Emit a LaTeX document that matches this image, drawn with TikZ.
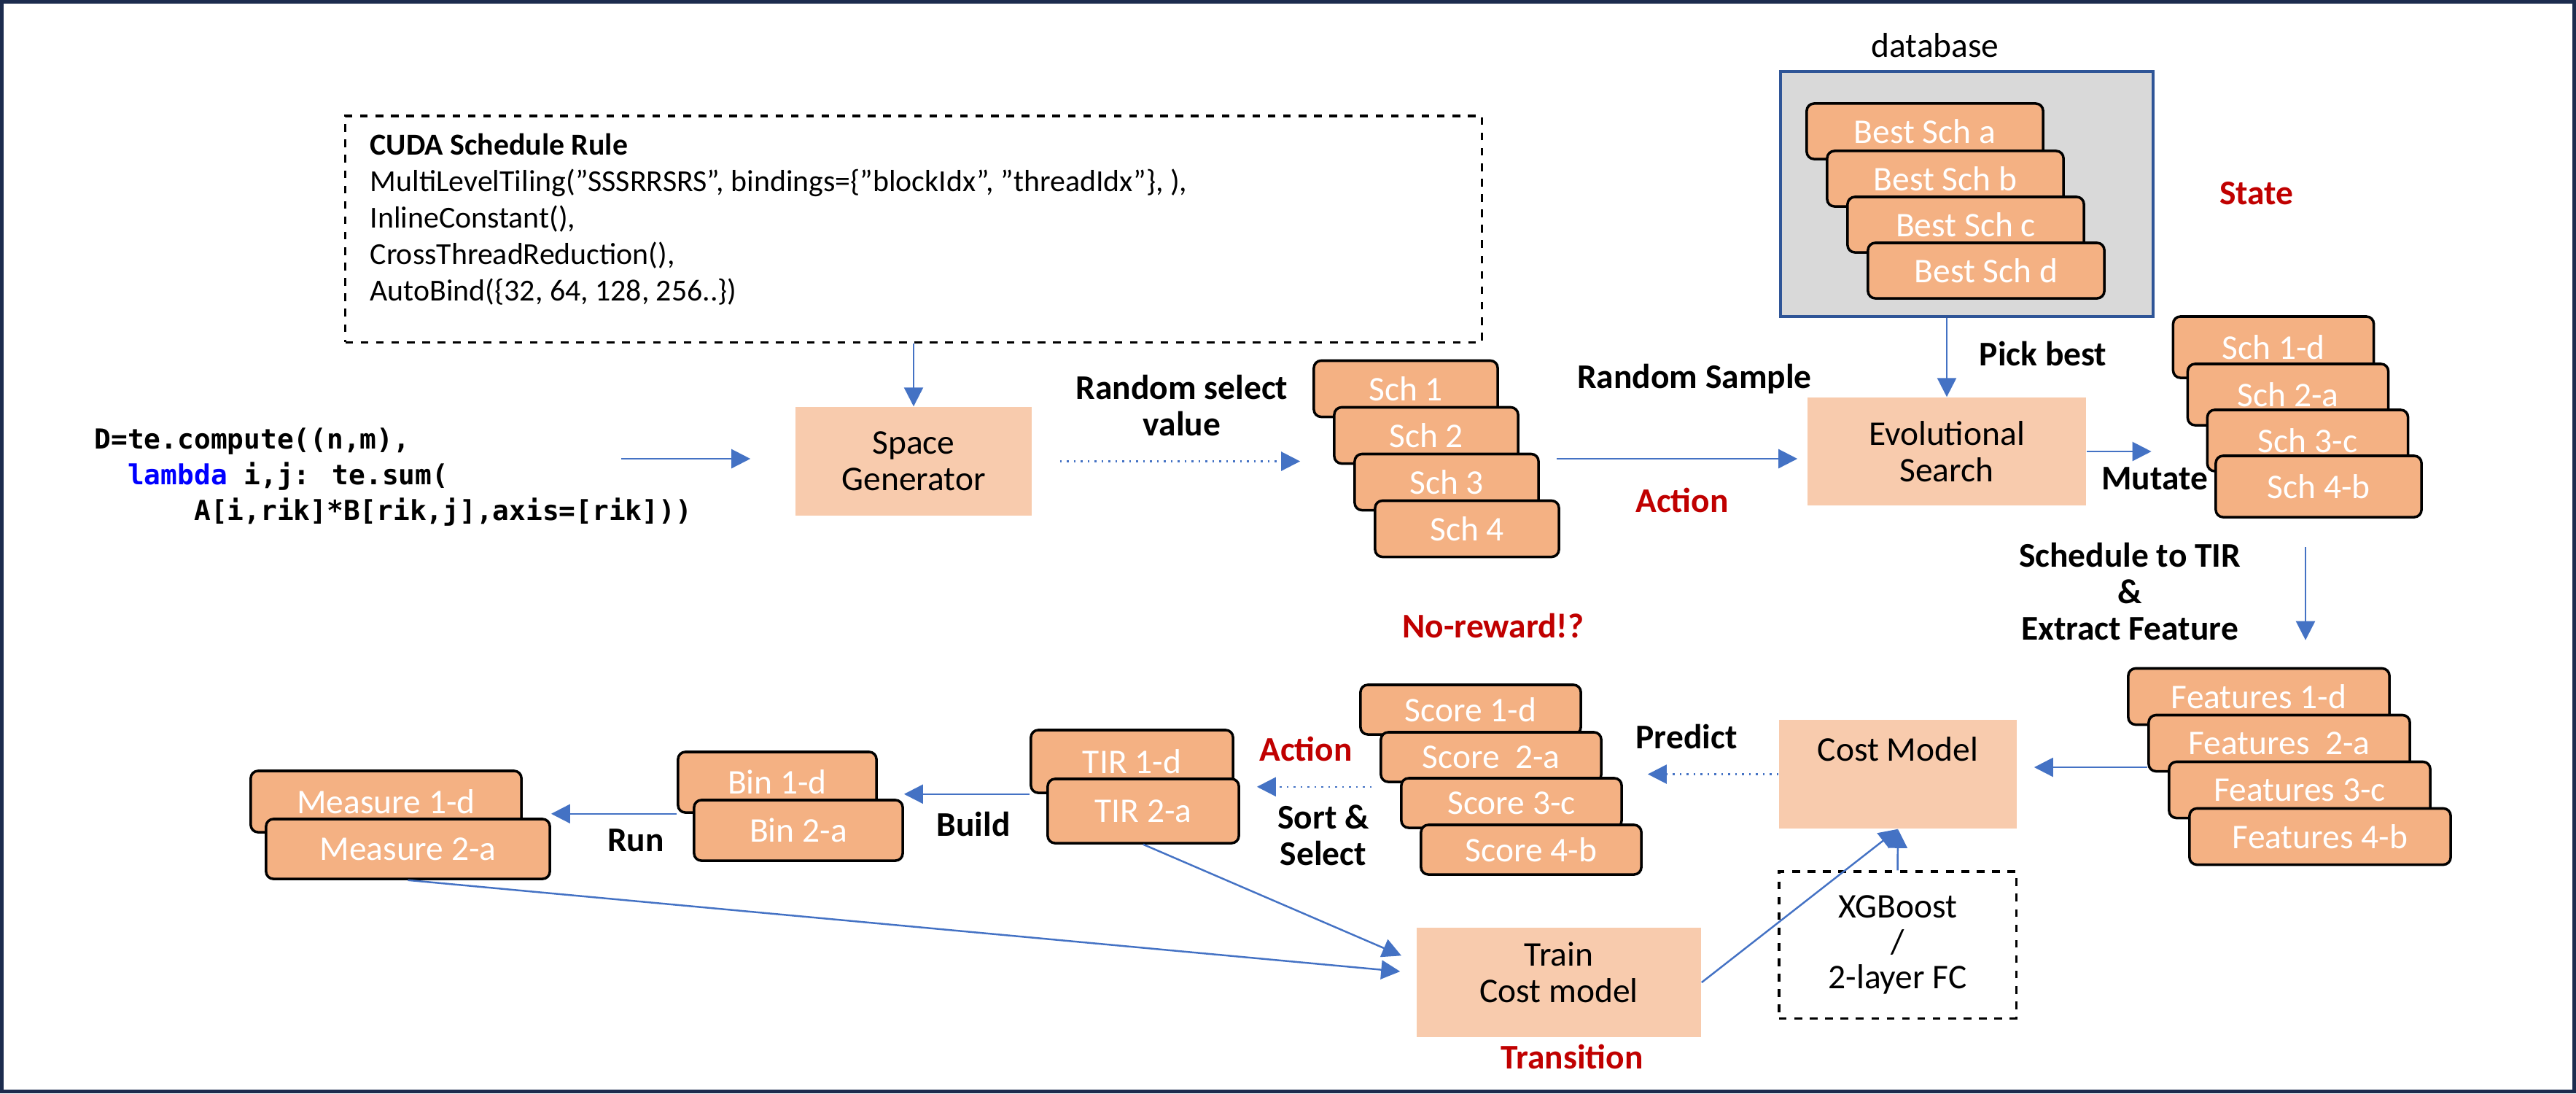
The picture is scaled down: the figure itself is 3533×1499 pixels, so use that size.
\documentclass[tikz,border=0pt]{standalone}
\usepackage{fontspec}
\setmainfont{Carlito}
\newfontfamily\codefont{DejaVu Sans Mono}
\usetikzlibrary{arrows.meta}
\definecolor{boxorange}{HTML}{F4B183}
\definecolor{paleorange}{HTML}{F8CBAD}
\definecolor{arrowblue}{HTML}{4472C4}
\definecolor{labelred}{HTML}{C00000}
\definecolor{framenavy}{HTML}{1C2C4E}
\definecolor{dbblue}{HTML}{2F5597}
\definecolor{dbgray}{HTML}{D9D9D9}
\definecolor{codeblue}{HTML}{0000FF}

\begin{document}
\begin{tikzpicture}[x=0.01cm,y=-0.01cm,
    every node/.style={font=\fontsize{13.5}{14.2}\selectfont},
    schbox/.style={draw=black,line width=1pt,rounded corners=0.1cm,fill=boxorange,text=white,inner sep=0pt},
    pale/.style={fill=paleorange,inner sep=0pt,align=center},
    dashbox/.style={draw=black,dashed,line width=0.9pt,inner sep=0pt},
    lbl/.style={font=\bfseries\fontsize{13.5}{14.2}\selectfont,align=center},
    redlbl/.style={lbl,text=labelred},
    arr/.style={draw=arrowblue,line width=0.7pt,-{Triangle[length=0.26cm,width=0.26cm]}},
    dotarr/.style={arr,dotted}]
        \useasboundingbox (0,0) rectangle (3533,1499);
        \draw[framenavy,line width=0.05cm] (2.5,2.5) rectangle (3530.5,1496.5);

        % top row
        \node [dashbox,minimum width=15.58cm,minimum height=3.10cm] (rule) at (1253,314) {};
        \node [anchor=west,align=left,inner sep=0pt,font=\fontsize{11.9}{14.2}\selectfont] (ruletext) at (507,301) {\textbf{CUDA Schedule Rule}\\MultiLevelTiling(”SSSRRSRS”, bindings=\{”blockIdx”, ”threadIdx”\}, ),\\InlineConstant(),\\CrossThreadReduction(),\\AutoBind(\{32, 64, 128, 256..\})};
        \node [anchor=west,align=left,inner sep=0pt,font=\codefont\bfseries\fontsize{10.75}{13.9}\selectfont] (code) at (129,654) {D=te.compute((n,m),\\\phantom{xx}\textcolor{codeblue}{lambda} i,j: te.sum(\\\phantom{xxxxxx}A[i,rik]*B[rik,j],axis=[rik]))};
        \coordinate (codeout) at (852,629);
        \node [pale,minimum width=3.24cm,minimum height=1.49cm] (space) at (1253,632.5) {Space\\Generator};
        \node [lbl] (randsel) at (1621,556) {Random select\\value};
        \node [schbox,minimum width=2.52cm,minimum height=0.77cm] (sch1) at (1928,533) {Sch 1};
        \node [schbox,minimum width=2.52cm,minimum height=0.77cm] (sch2) at (1956,597) {Sch 2};
        \node [schbox,minimum width=2.52cm,minimum height=0.77cm] (sch3) at (1984,661) {Sch 3};
        \node [schbox,minimum width=2.52cm,minimum height=0.77cm] (sch4) at (2012,725) {Sch 4};
        \coordinate (schout) at (2135,629);
        \node [lbl] (randsamp) at (2324,520) {Random Sample};
        \node [redlbl] (action1) at (2307,686) {Action};
        \node [pale,minimum width=3.82cm,minimum height=1.48cm] (evo) at (2670,619) {Evolutional\\Search};

        % database
        \node (dblabel) at (2654,62) {database};
        \node [draw=dbblue,line width=0.04cm,fill=dbgray,minimum width=5.11cm,minimum height=3.36cm,inner sep=0pt] (db) at (2697.5,266) {};
        \node [schbox,minimum width=3.24cm,minimum height=0.76cm] (best1) at (2640,180) {Best Sch a};
        \node [schbox,minimum width=3.24cm,minimum height=0.76cm] (best2) at (2668,245) {Best Sch b};
        \node [schbox,minimum width=3.24cm,minimum height=0.76cm] (best3) at (2696,308) {Best Sch c};
        \node [schbox,minimum width=3.24cm,minimum height=0.76cm] (best4) at (2724,371) {Best Sch d};
        \node [redlbl] (state) at (3095,265) {State};
        \node [lbl] (pick) at (2802,485) {Pick best};
        \node [lbl] (mutate) at (2955,656) {Mutate};

        % mutated schedules
        \node [schbox,minimum width=2.75cm,minimum height=0.84cm] (sch1d) at (3118,476) {Sch 1-d};
        \node [schbox,minimum width=2.75cm,minimum height=0.84cm] (sch2a) at (3138,541) {Sch 2-a};
        \node [schbox,minimum width=2.75cm,minimum height=0.84cm] (sch3c) at (3165,604) {Sch 3-c};
        \node [schbox,minimum width=2.82cm,minimum height=0.84cm] (sch4b) at (3180,667) {Sch 4-b};
        \node [lbl] (totir) at (2921,811) {Schedule to TIR\\\&\\Extract Feature};

        % features and cost model
        \node [schbox,minimum width=3.58cm,minimum height=0.77cm] (feat1) at (3098,955) {Features 1-d};
        \node [schbox,minimum width=3.58cm,minimum height=0.77cm] (feat2) at (3126,1019) {Features\ \ 2-a};
        \node [schbox,minimum width=3.58cm,minimum height=0.77cm] (feat3) at (3154,1083) {Features 3-c};
        \node [schbox,minimum width=3.58cm,minimum height=0.77cm] (feat4) at (3182,1147) {Features 4-b};
        \node [pale,minimum width=3.26cm,minimum height=1.49cm,text height=0.3cm,text depth=0.67cm] (cost) at (2603,1061.5) {Cost Model};
        \node [lbl] (predict) at (2313,1010) {Predict};
        \node [dashbox,minimum width=3.25cm,minimum height=2.01cm,align=center,font=\fontsize{13.5}{13.9}\selectfont] (xgb) at (2602.5,1295.5) {XGBoost\\/\\2-layer FC};

        % scores
        \node [redlbl] (noreward) at (2048,858) {No-reward!?};
        \node [schbox,minimum width=3.02cm,minimum height=0.68cm] (score1) at (2017,973) {Score 1-d};
        \node [schbox,minimum width=3.02cm,minimum height=0.68cm] (score2) at (2045,1038) {Score\ \ 2-a};
        \node [schbox,minimum width=3.02cm,minimum height=0.68cm] (score3) at (2073,1101) {Score 3-c};
        \node [schbox,minimum width=3.02cm,minimum height=0.68cm] (score4) at (2100,1165) {Score 4-b};
        \node [redlbl] (action2) at (1791,1027) {Action};
        \node [lbl] (sortsel) at (1815,1145) {Sort \&\\Select};

        % bottom row
        \node [schbox,minimum width=2.77cm,minimum height=0.86cm] (tir1) at (1552.5,1044) {TIR 1-d};
        \node [schbox,minimum width=2.62cm,minimum height=0.88cm] (tir2) at (1568,1112) {TIR 2-a};
        \node [lbl] (build) at (1335,1130) {Build};
        \node [schbox,minimum width=2.72cm,minimum height=0.83cm] (bin1) at (1066,1072.5) {Bin 1-d};
        \node [schbox,minimum width=2.86cm,minimum height=0.83cm] (bin2) at (1095,1138.5) {Bin 2-a};
        \node [lbl] (run) at (872,1152) {Run};
        \node [schbox,minimum width=3.71cm,minimum height=0.84cm] (meas1) at (529.5,1099) {Measure 1-d};
        \node [schbox,minimum width=3.89cm,minimum height=0.82cm] (meas2) at (559.5,1164) {Measure 2-a};
        \node [pale,minimum width=3.90cm,minimum height=1.50cm,text depth=0.28cm] (train) at (2138,1347) {Train\\Cost model};
        \node [redlbl] (transition) at (2156,1449) {Transition};

        \path
        (rule) edge [arr] (space)
        (codeout) edge [arr,shorten >=0.61cm] (codeout -| space.west)
        (space.east) edge [dotarr,shorten <=0.38cm,shorten >=0.17cm] (space.east -| sch1.west)
        (schout) edge [arr,shorten >=0.13cm] (schout -| evo.west)
        (db.south -| evo.north) edge [arr] (evo.north)
        (evo.east) edge [arr,shorten >=0.48cm] (evo.east -| sch2a.west)
        ([xshift=-0.18cm]sch4b.south) edge [arr,shorten <=0.39cm,shorten >=0.37cm] ([xshift=-0.18cm]sch4b.south |- feat1.north)
        ([yshift=-0.33cm]feat2.west) edge [arr,shorten >=0.23cm] ([yshift=-0.33cm]feat2.west -| cost.east)
        (cost.west) edge [dotarr,shorten >=0.62cm] (cost.west -| score2.east)
        ([yshift=-0.05cm]score2.south west) edge [dotarr,shorten <=0.11cm,shorten >=0.23cm] ([yshift=-0.05cm]score2.south west -| tir2.east)
        (tir1.south west) edge [arr] (tir1.south west -| bin2.east)
        (bin1.south west) edge [arr] (bin1.south west -| meas2.east)
        (meas2.south) edge [arr,shorten >=0.22cm] ([yshift=0.13cm]train.west)
        (tir2.south) edge [arr,shorten >=0.22cm] ([yshift=0.28cm]train.west)
        (train.east) edge [arr] (cost.south)
        (xgb.north) edge [arr] (cost.south);
    \end{tikzpicture}
\end{document}
